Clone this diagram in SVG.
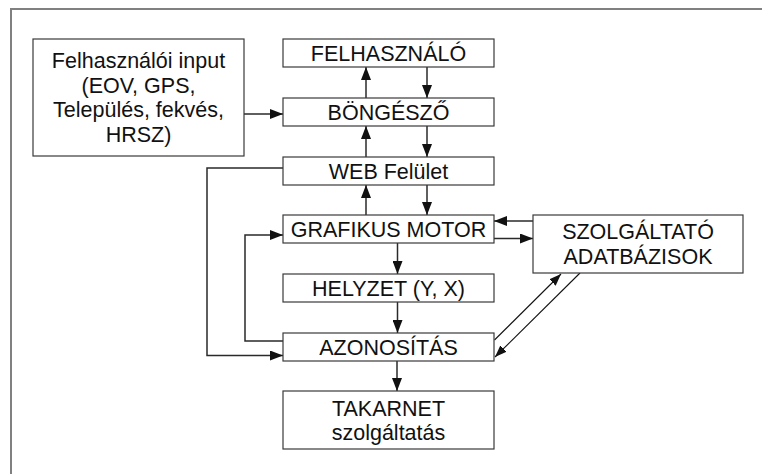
<svg xmlns="http://www.w3.org/2000/svg" width="762" height="474" viewBox="0 0 762 474">
  <style>
    .box { fill: #ffffff; stroke: #3a3a3a; stroke-width: 1.2; }
    .lbl { font-family: "Liberation Sans", Arial, sans-serif; font-size: 21.5px; fill: #111111; text-anchor: middle; }
    .wire { fill: none; stroke: #2a2a2a; stroke-width: 1.5; }
    .thin { fill: none; stroke: #111111; stroke-width: 1.1; }
  </style>
  <defs>
    <marker id="head" markerUnits="userSpaceOnUse" markerWidth="14" markerHeight="10" refX="13" refY="5" orient="auto">
      <path d="M0,0 L13,5 L0,10 Z" fill="#111111"/>
    </marker>
    <marker id="headSmall" markerUnits="userSpaceOnUse" markerWidth="13" markerHeight="9" refX="12" refY="4.5" orient="auto">
      <path d="M0,0 L12,4.5 L0,9 Z" fill="#111111"/>
    </marker>
  </defs>

  <rect x="0" y="0" width="762" height="474" fill="#ffffff"/>
  <!-- outer frame -->
  <path d="M11,474 V9 H762" fill="none" stroke="#808080" stroke-width="2"/>

  <g id="connectors">
    <!-- input to browser -->
    <line class="wire" x1="244" y1="114" x2="283" y2="114" marker-end="url(#head)"/>
    <!-- browser <-> user -->
    <line class="wire" x1="366" y1="98" x2="366" y2="67" marker-end="url(#head)"/>
    <line class="wire" x1="427" y1="67" x2="427" y2="98" marker-end="url(#head)"/>
    <!-- web <-> browser -->
    <line class="wire" x1="366" y1="157" x2="366" y2="126" marker-end="url(#head)"/>
    <line class="wire" x1="427" y1="126" x2="427" y2="157" marker-end="url(#head)"/>
    <!-- engine <-> web -->
    <line class="wire" x1="366" y1="215" x2="366" y2="185" marker-end="url(#head)"/>
    <line class="wire" x1="427" y1="185" x2="427" y2="215" marker-end="url(#head)"/>
    <!-- engine -> position -> identification -> service -->
    <line class="wire" x1="397.5" y1="243" x2="397.5" y2="274" marker-end="url(#head)"/>
    <line class="wire" x1="397.5" y1="302" x2="397.5" y2="333" marker-end="url(#head)"/>
    <line class="wire" x1="397" y1="361" x2="397" y2="391" marker-end="url(#head)"/>
    <!-- web surface loop down to identification -->
    <path class="wire" d="M283,168 H207 V355.5 H283" marker-end="url(#head)"/>
    <!-- identification loop back to engine -->
    <path class="wire" d="M283,341 H245 V235 H283" marker-end="url(#head)"/>
    <!-- engine <-> provider databases -->
    <line class="wire" x1="533" y1="221" x2="494" y2="221" marker-end="url(#head)"/>
    <line class="wire" x1="494" y1="238.5" x2="533" y2="238.5" marker-end="url(#head)"/>
    <!-- identification <-> provider databases -->
    <line class="thin" x1="494.5" y1="340" x2="561" y2="274" marker-end="url(#headSmall)"/>
    <line class="thin" x1="580" y1="273" x2="495" y2="357" marker-end="url(#headSmall)"/>
  </g>

  <g id="input">
    <rect class="box" x="33" y="39" width="211" height="117"/>
    <text class="lbl" x="138.5" y="68">Felhasználói input</text>
    <text class="lbl" x="138.5" y="92.5">(EOV, GPS,</text>
    <text class="lbl" x="138.5" y="117">Település, fekvés,</text>
    <text class="lbl" x="138.5" y="142">HRSZ)</text>
  </g>

  <g id="felhasznalo">
    <rect class="box" x="283" y="39" width="211" height="28"/>
    <text class="lbl" x="388.5" y="60.7">FELHASZNÁLÓ</text>
  </g>

  <g id="bongeszo">
    <rect class="box" x="283" y="98" width="211" height="28"/>
    <text class="lbl" x="388.5" y="119.7">BÖNGÉSZŐ</text>
  </g>

  <g id="web">
    <rect class="box" x="283" y="157" width="211" height="28"/>
    <text class="lbl" x="388.5" y="178.7">WEB Felület</text>
  </g>

  <g id="grafikus">
    <rect class="box" x="283" y="215" width="211" height="28"/>
    <text class="lbl" x="388.5" y="236.7">GRAFIKUS MOTOR</text>
  </g>

  <g id="helyzet">
    <rect class="box" x="283" y="274" width="211" height="28"/>
    <text class="lbl" x="388.5" y="295.7">HELYZET (Y, X)</text>
  </g>

  <g id="azonositas">
    <rect class="box" x="283" y="333" width="211" height="28"/>
    <text class="lbl" x="388.5" y="354.7">AZONOSÍTÁS</text>
  </g>

  <g id="takarnet">
    <rect class="box" x="283" y="391" width="211" height="58"/>
    <text class="lbl" x="388.5" y="415.5">TAKARNET</text>
    <text class="lbl" x="388.5" y="440">szolgáltatás</text>
  </g>

  <g id="adatbazisok">
    <rect class="box" x="533" y="215" width="210" height="58"/>
    <text class="lbl" x="638" y="239">SZOLGÁLTATÓ</text>
    <text class="lbl" x="638" y="264">ADATBÁZISOK</text>
  </g>
</svg>
